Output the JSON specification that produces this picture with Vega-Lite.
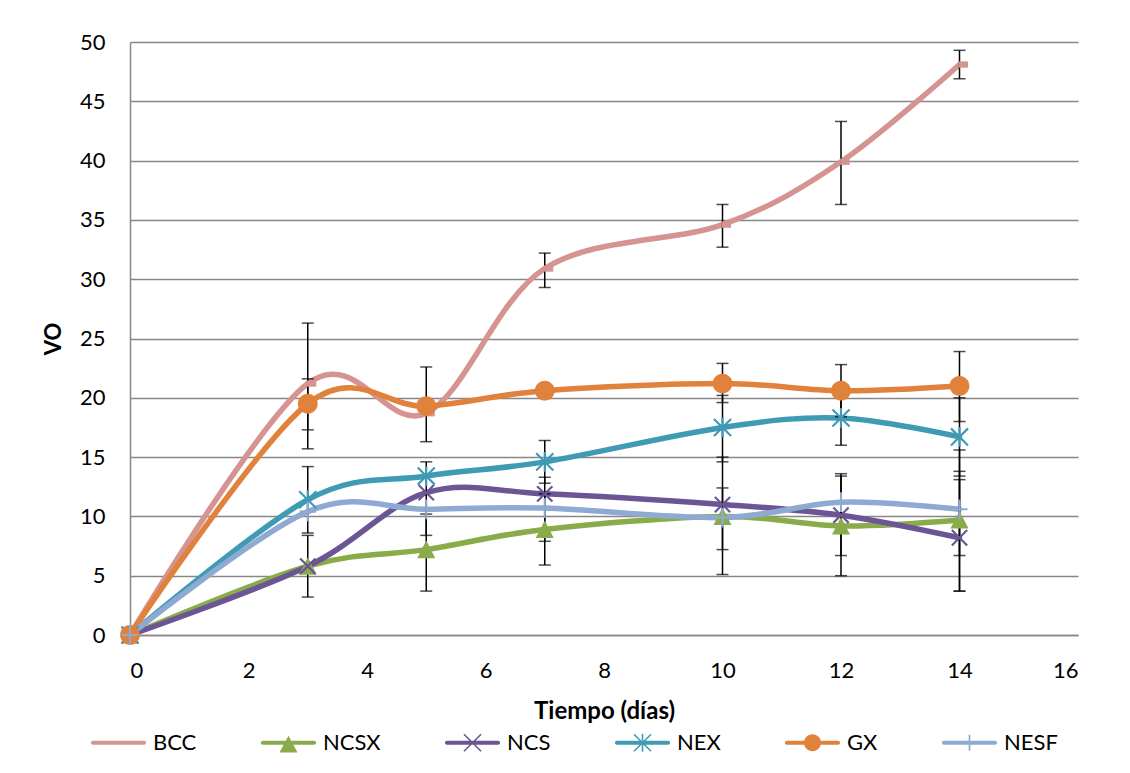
{
  "$schema": "https://vega.github.io/schema/vega-lite/v6.json",
  "width": 948,
  "height": 593,
  "autosize": "none",
  "padding": {"left": 130, "top": 42, "right": 52, "bottom": 138},
  "background": "white",
  "config": {
    "font": "Lato",
    "view": {"stroke": null},
    "axis": {"labelFont": "Lato", "titleFont": "Lato", "labelColor": "black", "titleColor": "black"}
  },
  "params": [
    {"name": "legPaths", "value": {
      "BCC": "M-0.93,-0.073L0.93,-0.073A0.073,0.073 0 0 1 0.93,0.073L-0.93,0.073A0.073,0.073 0 0 1 -0.93,-0.073Z",
      "NCSX": "M-0.93,-0.073L0.93,-0.073A0.073,0.073 0 0 1 0.93,0.073L-0.93,0.073A0.073,0.073 0 0 1 -0.93,-0.073Z M0,-0.255L0.327,0.35L-0.327,0.35Z",
      "NCS": "M-0.93,-0.073L0.93,-0.073A0.073,0.073 0 0 1 0.93,0.073L-0.93,0.073A0.073,0.073 0 0 1 -0.93,-0.073Z M-0.29,-0.33L0.33,0.29L0.29,0.33L-0.33,-0.29Z M-0.33,0.29L0.29,-0.33L0.33,-0.29L-0.29,0.33Z",
      "NEX": "M-0.93,-0.073L0.93,-0.073A0.073,0.073 0 0 1 0.93,0.073L-0.93,0.073A0.073,0.073 0 0 1 -0.93,-0.073Z M-0.29,-0.33L0.33,0.29L0.29,0.33L-0.33,-0.29Z M-0.33,0.29L0.29,-0.33L0.33,-0.29L-0.29,0.33Z M-0.029,-0.33L0.029,-0.33L0.029,0.33L-0.029,0.33Z",
      "GX": "M-0.93,-0.073L0.93,-0.073A0.073,0.073 0 0 1 0.93,0.073L-0.93,0.073A0.073,0.073 0 0 1 -0.93,-0.073Z M-0.31,0A0.31,0.31 0 1 1 0.31,0A0.31,0.31 0 1 1 -0.31,0Z",
      "NESF": "M-0.93,-0.073L0.93,-0.073A0.073,0.073 0 0 1 0.93,0.073L-0.93,0.073A0.073,0.073 0 0 1 -0.93,-0.073Z M-0.03,-0.29L0.03,-0.29L0.03,0.29L-0.03,0.29Z"
    }},
    {"name": "markPaths", "value": {
      "BCC": "M-0.1,-0.35L0.95,-0.35L0.95,0.35L-0.1,0.35Z",
      "NCSX": "M0,-1L1,0.95L-1,0.95Z",
      "NCS": "M-0.765,-0.935L0.935,0.765L0.765,0.935L-0.935,-0.765Z M-0.935,0.765L0.765,-0.935L0.935,-0.765L-0.765,0.935Z",
      "NEX": "M-0.865,-1.035L1.035,0.865L0.865,1.035L-1.035,-0.865Z M-1.035,0.865L0.865,-1.035L1.035,-0.865L-0.865,1.035Z M-0.12,-1.1L0.12,-1.1L0.12,1.1L-0.12,1.1Z",
      "GX": "M-1.1,0A1.1,1.1 0 1 1 1.1,0A1.1,1.1 0 1 1 -1.1,0Z",
      "NESF": "M-0.12,-1.1L0.12,-1.1L0.12,1.1L-0.12,1.1Z M-0.9,-0.12L0.9,-0.12L0.9,0.12L-0.9,0.12Z"
    }}
  ],
  "data": {
    "values": [
      {"serie": "BCC", "dia": 0, "vo": 0, "lo": null, "hi": null},
      {"serie": "BCC", "dia": 3, "vo": 21.2, "lo": 15.7, "hi": 26.3},
      {"serie": "BCC", "dia": 5, "vo": 18.7, "lo": null, "hi": null},
      {"serie": "BCC", "dia": 7, "vo": 30.9, "lo": 29.3, "hi": 32.2},
      {"serie": "BCC", "dia": 10, "vo": 34.6, "lo": 32.7, "hi": 36.3},
      {"serie": "BCC", "dia": 12, "vo": 39.9, "lo": 36.3, "hi": 43.3},
      {"serie": "BCC", "dia": 14, "vo": 48.1, "lo": 46.9, "hi": 49.3},
      {"serie": "NCSX", "dia": 0, "vo": 0, "lo": null, "hi": null},
      {"serie": "NCSX", "dia": 3, "vo": 5.8, "lo": 3.2, "hi": 8.4},
      {"serie": "NCSX", "dia": 5, "vo": 7.2, "lo": 3.7, "hi": 10.2},
      {"serie": "NCSX", "dia": 7, "vo": 8.9, "lo": 5.9, "hi": 11.9},
      {"serie": "NCSX", "dia": 10, "vo": 10.0, "lo": 5.1, "hi": 15.0},
      {"serie": "NCSX", "dia": 12, "vo": 9.2, "lo": 5.0, "hi": 13.4},
      {"serie": "NCSX", "dia": 14, "vo": 9.7, "lo": 3.7, "hi": 15.6},
      {"serie": "NCS", "dia": 0, "vo": 0, "lo": null, "hi": null},
      {"serie": "NCS", "dia": 3, "vo": 5.8, "lo": null, "hi": null},
      {"serie": "NCS", "dia": 5, "vo": 12.0, "lo": 8.4, "hi": 14.6},
      {"serie": "NCS", "dia": 7, "vo": 11.9, "lo": null, "hi": null},
      {"serie": "NCS", "dia": 10, "vo": 11.0, "lo": null, "hi": null},
      {"serie": "NCS", "dia": 12, "vo": 10.1, "lo": 6.7, "hi": 13.6},
      {"serie": "NCS", "dia": 14, "vo": 8.2, "lo": 3.7, "hi": 13.1},
      {"serie": "NEX", "dia": 0, "vo": 0, "lo": null, "hi": null},
      {"serie": "NEX", "dia": 3, "vo": 11.4, "lo": 8.6, "hi": 14.2},
      {"serie": "NEX", "dia": 5, "vo": 13.4, "lo": null, "hi": null},
      {"serie": "NEX", "dia": 7, "vo": 14.6, "lo": 12.8, "hi": 16.4},
      {"serie": "NEX", "dia": 10, "vo": 17.5, "lo": 14.6, "hi": 20.2},
      {"serie": "NEX", "dia": 12, "vo": 18.3, "lo": 16.0, "hi": 20.6},
      {"serie": "NEX", "dia": 14, "vo": 16.7, "lo": 13.4, "hi": 20.0},
      {"serie": "GX", "dia": 0, "vo": 0, "lo": null, "hi": null},
      {"serie": "GX", "dia": 3, "vo": 19.5, "lo": 17.3, "hi": 21.6},
      {"serie": "GX", "dia": 5, "vo": 19.3, "lo": 16.3, "hi": 22.6},
      {"serie": "GX", "dia": 7, "vo": 20.6, "lo": null, "hi": null},
      {"serie": "GX", "dia": 10, "vo": 21.2, "lo": 19.6, "hi": 22.9},
      {"serie": "GX", "dia": 12, "vo": 20.6, "lo": 18.4, "hi": 22.8},
      {"serie": "GX", "dia": 14, "vo": 21.0, "lo": 18.0, "hi": 23.9},
      {"serie": "NESF", "dia": 0, "vo": 0, "lo": null, "hi": null},
      {"serie": "NESF", "dia": 3, "vo": 10.4, "lo": null, "hi": null},
      {"serie": "NESF", "dia": 5, "vo": 10.6, "lo": null, "hi": null},
      {"serie": "NESF", "dia": 7, "vo": 10.7, "lo": 7.9, "hi": 13.3},
      {"serie": "NESF", "dia": 10, "vo": 9.9, "lo": 7.2, "hi": 12.4},
      {"serie": "NESF", "dia": 12, "vo": 11.2, "lo": null, "hi": null},
      {"serie": "NESF", "dia": 14, "vo": 10.6, "lo": 6.7, "hi": 13.8}
    ]
  },
  "encoding": {
    "x": {
      "field": "dia", "type": "quantitative",
      "scale": {"domain": [0, 16], "nice": false},
      "axis": {
        "values": [0, 2, 4, 6, 8, 10, 12, 14, 16],
        "title": "Tiempo (días)", "grid": false, "ticks": false,
        "domainColor": "#878787", "domainWidth": 1.5,
        "labelFontSize": 22, "labelPadding": 25,
        "titleFontSize": 24, "titleFontWeight": "bold", "titlePadding": 18
      }
    },
    "y": {
      "field": "vo", "type": "quantitative",
      "scale": {"domain": [0, 50], "nice": false},
      "axis": {
        "values": [0, 5, 10, 15, 20, 25, 30, 35, 40, 45, 50],
        "title": "VO", "grid": true, "gridColor": "#878787", "gridWidth": 1.5,
        "ticks": false, "domainColor": "#878787", "domainWidth": 1.5,
        "labelFontSize": 22, "labelPadding": 25,
        "titleFontSize": 22, "titleFontWeight": "bold", "titlePadding": 14
      }
    }
  },
  "layer": [
    {
      "mark": {"type": "line", "interpolate": "cardinal", "strokeWidth": 5.5, "strokeCap": "round", "strokeJoin": "round"},
      "encoding": {
        "color": {
          "field": "serie", "type": "nominal",
          "scale": {
            "domain": ["BCC", "NCSX", "NCS", "NEX", "GX", "NESF"],
            "range": ["#D59391", "#8AAB4A", "#6C5594", "#3F9BB4", "#E0823B", "#8FAAD2"]
          },
          "legend": {
            "title": null, "orient": "none", "legendX": -39, "legendY": 673,
            "direction": "horizontal", "columns": 6, "padding": 0,
            "symbolSize": 3025, "labelFontSize": 22, "labelFont": "Lato", "labelColor": "black",
            "labelOffset": 7, "columnPadding": 63, "symbolStrokeWidth": 0,
            "encode": {
              "symbols": {
                "update": {
                  "shape": {"signal": "legPaths[datum.value]"},
                  "fill": {"signal": "scale('color', datum.value)"},
                  "stroke": {"value": "transparent"},
                  "strokeWidth": {"value": 0},
                  "size": {"value": 3025},
                  "opacity": {"value": 1}
                }
              }
            }
          }
        }
      }
    },
    {
      "transform": [{"filter": "datum.lo != null"}],
      "mark": {"type": "errorbar", "color": "black", "thickness": 1.5, "ticks": {"size": 12, "thickness": 1.5, "color": "black"}},
      "encoding": {
        "y": {"field": "lo", "type": "quantitative"},
        "y2": {"field": "hi"}
      }
    },
    {
      "mark": {"type": "point", "filled": true, "opacity": 1, "size": 324, "strokeWidth": 0, "shape": {"expr": "markPaths[datum.serie]"}},
      "encoding": {
        "color": {
          "field": "serie", "type": "nominal",
          "scale": {
            "domain": ["BCC", "NCSX", "NCS", "NEX", "GX", "NESF"],
            "range": ["#D59391", "#8AAB4A", "#6C5594", "#3F9BB4", "#E0823B", "#8FAAD2"]
          },
          "legend": {
            "title": null, "orient": "none", "legendX": -39, "legendY": 673,
            "direction": "horizontal", "columns": 6, "padding": 0,
            "symbolSize": 3025, "labelFontSize": 22, "labelFont": "Lato", "labelColor": "black",
            "labelOffset": 7, "columnPadding": 63, "symbolStrokeWidth": 0,
            "encode": {
              "symbols": {
                "update": {
                  "shape": {"signal": "legPaths[datum.value]"},
                  "fill": {"signal": "scale('color', datum.value)"},
                  "stroke": {"value": "transparent"},
                  "strokeWidth": {"value": 0},
                  "size": {"value": 3025},
                  "opacity": {"value": 1}
                }
              }
            }
          }
        }
      }
    }
  ]
}
